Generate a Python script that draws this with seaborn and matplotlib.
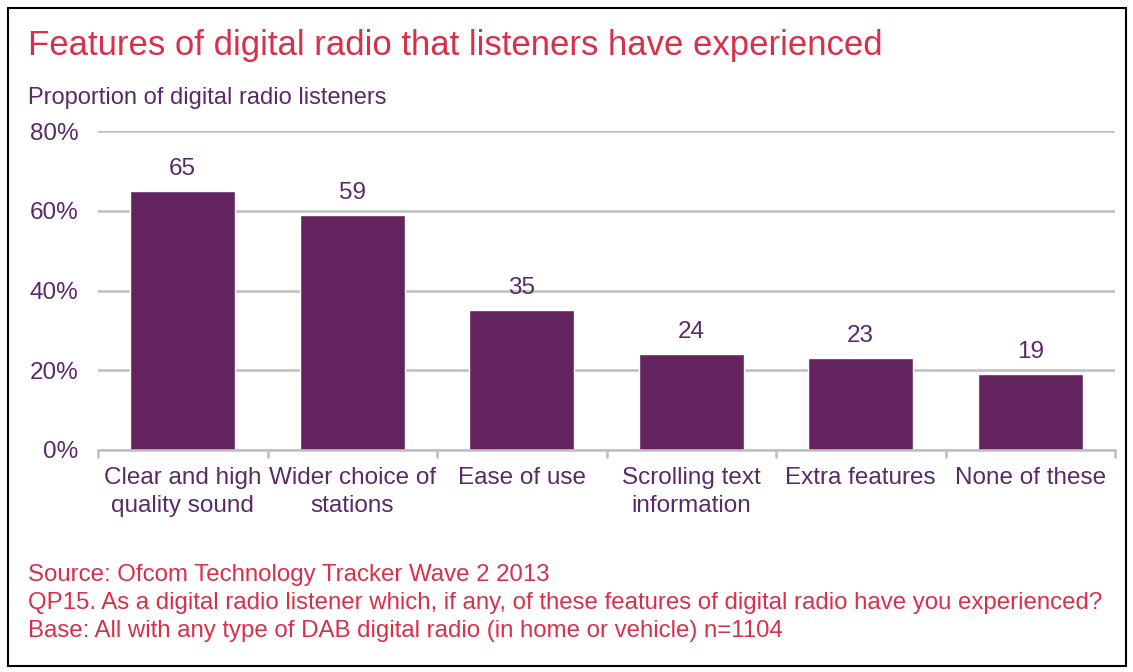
import matplotlib
matplotlib.use("Agg")
import matplotlib.pyplot as plt
import seaborn as sns
import pandas as pd
from matplotlib.patches import Rectangle
from matplotlib.ticker import FuncFormatter

categories = ["Clear and high\nquality sound", "Wider choice of\nstations", "Ease of use",
              "Scrolling text\ninformation", "Extra features", "None of these"]
values = [65, 59, 35, 24, 23, 19]
yticks = [0, 20, 40, 60, 80]

title = "Features of digital radio that listeners have experienced"
subtitle = "Proportion of digital radio listeners"
notes = ["Source: Ofcom Technology Tracker Wave 2 2013",
         "QP15. As a digital radio listener which, if any, of these features of digital radio have you experienced?",
         "Base: All with any type of DAB digital radio (in home or vehicle) n=1104"]

BAR = "#62235F"
TXT = "#5A2A68"
RED = "#D9304A"
GRID = "#BFBFBF"

sns.set_theme(style="white")
plt.rcParams["font.family"] = ["Liberation Sans", "DejaVu Sans"]

fig = plt.figure(figsize=(11.33, 6.72), dpi=100)
ax = fig.add_axes([98/1133, 1-450/672, (1115-98)/1133, (450-131)/672])

df = pd.DataFrame({"cat": categories, "val": values})
sns.barplot(data=df, x="cat", y="val", color=BAR, width=0.62, ax=ax, saturation=1)

ax.set_ylim(0, 80)
ax.set_xlim(-0.5, len(categories) - 0.5)
ax.set_yticks(yticks)
ax.yaxis.set_major_formatter(FuncFormatter(lambda v, p: f"{int(v)}%"))
ax.grid(axis="y", color=GRID, linewidth=1.8)
ax.set_axisbelow(True)
for s in ["top", "right", "left"]:
    ax.spines[s].set_visible(False)
ax.spines["bottom"].set_color(GRID)
ax.spines["bottom"].set_linewidth(1.8)
ax.tick_params(axis="y", length=0, pad=14, labelsize=17.5, labelcolor=TXT)
ax.set_xticks(range(len(categories)))
ax.set_xticklabels(categories, fontsize=17.5, color=TXT, linespacing=1.35)
ax.tick_params(axis="x", length=0, pad=12)
# minor ticks at category boundaries
ax.set_xticks([i - 0.5 for i in range(len(categories) + 1)], minor=True)
ax.tick_params(axis="x", which="minor", bottom=True, length=6, width=1.8, color=GRID, direction="out")
ax.set_xlabel("")
ax.set_ylabel("")

for c in ax.containers:
    ax.bar_label(c, labels=[str(v) for v in values], padding=8, fontsize=17.5, color=TXT)

fig.text(28/1133, 1-45/672, title, fontsize=25, color=RED, va="center", ha="left")
fig.text(28/1133, 1-98/672, subtitle, fontsize=17, color=TXT, va="center", ha="left")
for i, n in enumerate(notes):
    fig.text(28/1133, 1-(575 + 28*i)/672, n, fontsize=17.3, color=RED, va="center", ha="left")

fig.patches.append(Rectangle((8/1133, 1-666/672), (1126-8)/1133, (666-8)/672,
                             transform=fig.transFigure, fill=False, edgecolor="black", linewidth=1.5))

fig.savefig("out.png", dpi=100)
